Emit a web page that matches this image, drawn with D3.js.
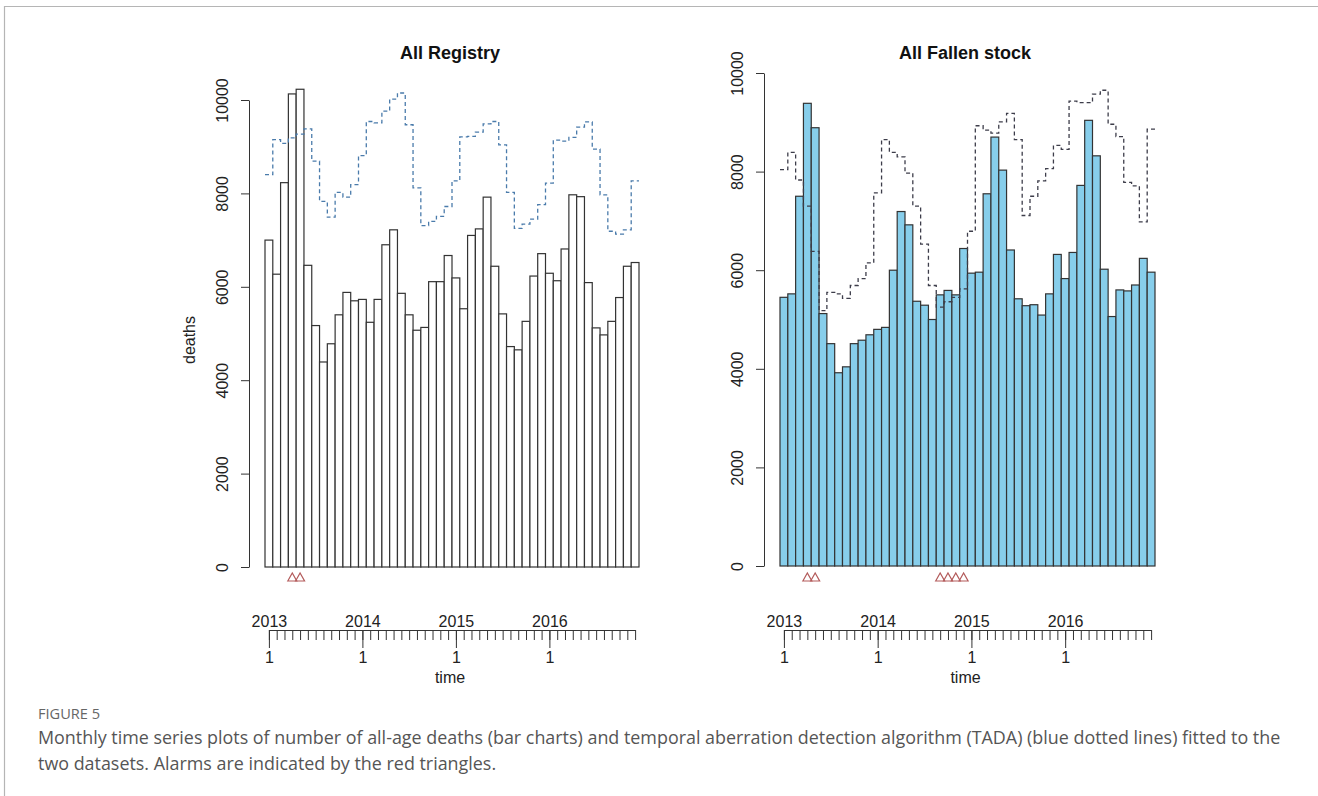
<!DOCTYPE html>
<html><head><meta charset="utf-8">
<script src="https://cdn.jsdelivr.net/npm/d3@7"></script>
<style>body{margin:0;background:#fff}svg{display:block}</style>
</head><body>
<svg id="c" width="1318" height="796"></svg>
<script>
// ---- data ----
const yearLabels = ["2013", "2014", "2015", "2016"];
const yearStartMonth = [1, 13, 25, 37];
const monthTickLabel = "1";
const yTicks = [0, 2000, 4000, 6000, 8000, 10000];
const registryDeaths = [7000, 6270, 8230, 10130, 10230, 6460, 5170, 4390, 4780, 5400, 5880, 5700,
  5730, 5240, 5730, 6900, 7220, 5860, 5400, 5070, 5130, 6110, 6110, 6670,
  6190, 5530, 7100, 7240, 7920, 6440, 5420, 4720, 4650, 5260, 6230, 6710,
  6290, 6130, 6810, 7970, 7930, 6090, 5120, 4970, 5260, 5770, 6440, 6520];
const registryTADA = [8400, 9150, 9070, 9190, 9270, 9380, 8690, 7830, 7490, 8020, 7920, 8190,
  8810, 9540, 9510, 9760, 10020, 10150, 9470, 8120, 7310, 7400, 7510, 7720,
  8270, 9210, 9220, 9310, 9490, 9540, 9040, 8020, 7250, 7340, 7450, 7760,
  8220, 9140, 9120, 9200, 9420, 9530, 8950, 7970, 7190, 7130, 7220, 8270];
const fallenDeaths = [5450, 5520, 7500, 9385, 8890, 5120, 4510, 3920, 4040, 4510, 4580, 4690,
  4800, 4840, 6000, 7190, 6920, 5370, 5290, 5000, 5500, 5590, 5500, 6440,
  5940, 5960, 7550, 8700, 8030, 6410, 5420, 5280, 5300, 5090, 5520, 6320,
  5830, 6360, 7720, 9040, 8320, 6020, 5060, 5600, 5580, 5700, 6240, 5960];
const fallenTADA = [8040, 8390, 7830, 7300, 6380, 5180, 5550, 5520, 5430, 5690, 5830, 6150,
  7570, 8650, 8390, 8300, 7970, 7300, 6530, 5690, 5250, 5360, 5450, 5620,
  6790, 8930, 8840, 8780, 9010, 9180, 8650, 7110, 7500, 7810, 8060, 8530,
  8450, 9430, 9400, 9400, 9570, 9650, 8960, 8710, 7780, 7710, 6980, 8860];
const registryAlarms = [4, 5];
const fallenAlarms = [4, 5, 21, 22, 23, 24];
const months = d3.range(1, 49);

const FONT = "'Liberation Sans', Arial, sans-serif";
const FS = 16;
const svg = d3.select("#c");

// frame lines
svg.append("line").attr("x1", 4.5).attr("x2", 1318).attr("y1", 6.5).attr("y2", 6.5)
  .attr("stroke", "#b5b5b5").attr("stroke-width", 1.2);
svg.append("line").attr("x1", 4.5).attr("x2", 4.5).attr("y1", 6).attr("y2", 796)
  .attr("stroke", "#b5b5b5").attr("stroke-width", 1.2);

function panel(cfg) {
  const g = svg.append("g");
  const xb = d3.scaleBand().domain(months).range([cfg.barL, cfg.barR]).padding(0);
  const bw = xb.bandwidth();
  const y = d3.scaleLinear().domain([0, 10000]).range([cfg.yBottom, cfg.yTop]);
  const xc = m => xb(m) + bw / 2;

  // bars
  g.append("g").selectAll("rect").data(cfg.deaths).join("rect")
    .attr("x", (d, i) => xb(months[i]))
    .attr("width", bw)
    .attr("y", d => y(d))
    .attr("height", d => y(0) - y(d))
    .attr("fill", cfg.fill)
    .attr("stroke", "#333")
    .attr("stroke-width", 1.2);

  // TADA step line
  const pts = months.map((m, i) => [xb(m), y(cfg.tada[i])]);
  pts.push([xb(48) + bw, y(cfg.tada[47])]);
  g.append("path").datum(pts)
    .attr("d", d3.line().curve(d3.curveStepAfter))
    .attr("fill", "none")
    .attr("stroke", cfg.lineColor)
    .attr("stroke-width", 1.3)
    .attr("stroke-dasharray", "4,3");

  // alarms
  g.append("g").selectAll("path").data(cfg.alarms).join("path")
    .attr("d", m => {
      const cx = xc(m), cy = 577;
      return `M${cx - 4.5},${cy + 4}L${cx},${cy - 4}L${cx + 4.5},${cy + 4}Z`;
    })
    .attr("fill", "none").attr("stroke", "#b35b5b").attr("stroke-width", 1.2);

  // y axis
  const ya = g.append("g").attr("transform", `translate(${cfg.axisX},0)`)
    .call(d3.axisLeft(y).tickValues(yTicks).tickSize(8).tickSizeOuter(0).tickFormat(d3.format("d")));
  ya.selectAll("path,line").attr("stroke", "#333");
  ya.selectAll(".tick text")
    .attr("x", null).attr("dy", null)
    .attr("text-anchor", "middle")
    .attr("transform", "translate(-21.3,0) rotate(-90)")
    .attr("font-family", FONT).attr("font-size", FS).attr("fill", "#222");

  // time axis
  const xt = d3.scaleLinear().domain([1, 48]).range([xc(1), xc(48)]);
  const ta = g.append("g").attr("transform", "translate(0,630)");
  const minor = ta.append("g")
    .call(d3.axisBottom(xt).tickValues(months).tickSize(10).tickSizeOuter(0).tickFormat(""));
  const major = ta.append("g")
    .call(d3.axisBottom(xt).tickValues(yearStartMonth).tickSize(18).tickSizeOuter(0)
      .tickPadding(4).tickFormat(() => monthTickLabel));
  major.select(".domain").remove();
  const top = ta.append("g")
    .call(d3.axisTop(xt).tickValues(yearStartMonth).tickSize(0).tickSizeOuter(0)
      .tickPadding(3.5).tickFormat((d, i) => yearLabels[i]));
  top.select(".domain").remove();
  [minor, major, top].forEach(s => {
    s.selectAll("path,line").attr("stroke", "#333");
    s.selectAll("text").attr("font-family", FONT).attr("font-size", FS).attr("fill", "#222");
  });

  // titles / labels
  svg.append("text").attr("x", cfg.titleX).attr("y", 58.5)
    .attr("text-anchor", "middle").attr("font-family", FONT)
    .attr("font-weight", "bold").attr("font-size", 18).attr("fill", "#111")
    .text(cfg.title);
  svg.append("text").attr("x", (cfg.barL + cfg.barR) / 2 - 2).attr("y", 682.5)
    .attr("text-anchor", "middle").attr("font-family", FONT)
    .attr("font-size", FS).attr("fill", "#222").text("time");
  if (cfg.ylabel) {
    svg.append("text").attr("transform", `translate(195,340) rotate(-90)`)
      .attr("text-anchor", "middle").attr("font-family", FONT)
      .attr("font-size", FS).attr("fill", "#222").text(cfg.ylabel);
  }
}

panel({
  title: "All Registry", titleX: 450, axisX: 249, barL: 265, barR: 639,
  yBottom: 567, yTop: 100, deaths: registryDeaths, tada: registryTADA,
  alarms: registryAlarms, fill: "#ffffff", lineColor: "#4a7bab", ylabel: "deaths"
});
panel({
  title: "All Fallen stock", titleX: 965, axisX: 764, barL: 780, barR: 1155,
  yBottom: 566, yTop: 73, deaths: fallenDeaths, tada: fallenTADA,
  alarms: fallenAlarms, fill: "#87ceeb", lineColor: "#3d3d4a", ylabel: null
});

// caption
const CAP = "'Open Sans', 'Noto Sans', sans-serif";
svg.append("text").attr("x", 38).attr("y", 719).attr("font-family", CAP)
  .attr("font-size", 14.6).attr("fill", "#666").text("FIGURE 5");
svg.append("text").attr("x", 38).attr("y", 744).attr("font-family", CAP)
  .attr("font-size", 17.9).attr("fill", "#555")
  .text("Monthly time series plots of number of all-age deaths (bar charts) and temporal aberration detection algorithm (TADA) (blue dotted lines) fitted to the");
svg.append("text").attr("x", 38).attr("y", 770).attr("font-family", CAP)
  .attr("font-size", 17.9).attr("fill", "#555")
  .text("two datasets. Alarms are indicated by the red triangles.");
</script>
</body></html>
